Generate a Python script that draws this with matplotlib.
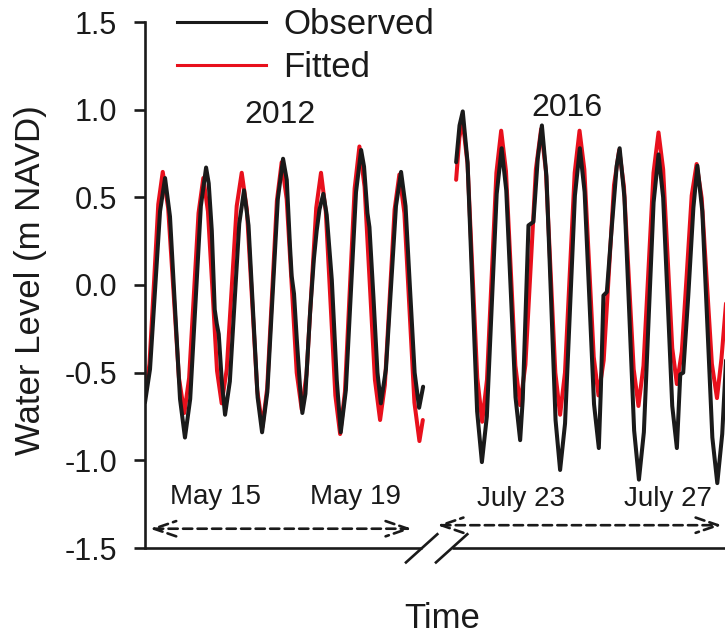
import matplotlib
matplotlib.use("Agg")
import matplotlib.pyplot as plt
from matplotlib.lines import Line2D

plt.rcParams['font.family'] = ['Liberation Sans', 'DejaVu Sans']
plt.rcParams['axes.unicode_minus'] = False

# ---- data (hours from the start of each record, water level in m NAVD) ----
obs_2012_hours = [0, 3.25, 6.5, 9.75, 13.0, 16.2, 19.45, 22.7, 25.9, 29.3, 32.75, 36.2,
                  39.6, 41.3, 43.3, 45.2, 46.5, 47.8, 49.8, 51.9, 55.0, 58.05, 61.1, 64.2,
                  67.1, 70.05, 73.0, 75.9, 79.3, 82.7, 86.1, 89.5, 91.9, 94.0, 95.1, 96.6,
                  98.4, 100.5, 102.0, 104.0, 107.0, 109.5, 111.3, 113.1, 115.6, 117.8, 121.1,
                  124.3, 126.9, 130.2, 133.5, 136.8, 140.1, 142.0, 144.2, 145.5, 148.1, 150.7,
                  152.9, 156.2, 159.45, 162.7, 166.0, 168.9, 171.85, 174.8, 177.7, 180.3]
obs_2012_level = [-0.67, -0.48, -0.03, 0.42, 0.61, 0.39, -0.13, -0.65, -0.87, -0.65, -0.10, 0.45,
                  0.67, 0.58, 0.31, -0.14, -0.22, -0.28, -0.55, -0.74, -0.55, -0.10, 0.35, 0.54,
                  0.34, -0.15, -0.64, -0.84, -0.61, -0.06, 0.49, 0.72, 0.60, 0.22, 0.05, -0.05,
                  -0.31, -0.58, -0.73, -0.62, -0.16, 0.15, 0.31, 0.43, 0.52, 0.40, 0.03,
                  -0.54, -0.84, -0.60, -0.035, 0.53, 0.77, 0.675, 0.41, 0.33, -0.07, -0.50,
                  -0.675, -0.48, -0.015, 0.45, 0.645, 0.45, -0.03, -0.50, -0.70, -0.58]

fit_2012_hours = [0, 2.9, 5.75, 8.6, 11.5, 15.0, 18.5, 22.0, 25.5, 28.6, 31.65, 34.7, 37.8,
                  40.8, 43.75, 46.7, 49.7, 53.0, 56.2, 59.45, 62.7, 66.05, 69.4, 72.75, 76.1,
                  79.2, 82.35, 85.5, 88.6, 91.85, 95.1, 98.35, 101.6, 104.7, 107.85, 111.0,
                  114.1, 117.2, 120.3, 123.4, 126.5, 129.6, 132.75, 135.9, 139.0, 142.35,
                  145.7, 149.05, 152.4, 155.5, 158.65, 161.8, 164.9, 168.15, 171.4, 174.65,
                  177.9, 180.1]
fit_2012_level = [-0.64, -0.45, 0.00, 0.46, 0.645, 0.44, -0.04, -0.53, -0.73, -0.53, -0.06, 0.41,
                  0.61, 0.42, -0.03, -0.49, -0.675, -0.48, -0.02, 0.45, 0.64, 0.43, -0.085,
                  -0.60, -0.81, -0.59, -0.055, 0.48, 0.70, 0.49, 0.00, -0.50, -0.71, -0.51,
                  -0.035, 0.44, 0.64, 0.42, -0.105, -0.63, -0.85, -0.61, -0.03, 0.55, 0.79,
                  0.56, 0.01, -0.54, -0.77, -0.57, -0.07, 0.43, 0.63, 0.41, -0.13, -0.67,
                  -0.89, -0.77]

obs_2016_hours = [0, 2.2, 4.3, 7.4, 10.5, 13.6, 16.7, 19.9, 23.1, 26.3, 29.5, 32.5, 35.5, 38.5,
                  41.5, 43.2, 46.9, 50.1, 52.9, 55.6, 58.55, 61.5, 64.45, 67.4, 70.6, 73.8,
                  77.0, 80.2, 83.3, 86.35, 89.4, 92.5, 93.8, 95.5, 97.7, 100.9, 104.1, 106.0,
                  109.1, 112.25, 115.4, 118.5, 121.7, 124.85, 128.0, 131.2, 134.2, 137.15,
                  140.1, 143.1, 145.3, 147.2, 150.5, 153.8, 156.4, 159.6, 162.85, 166.1,
                  169.3, 172.5, 176.0]
obs_2016_level = [0.70, 0.91, 0.99, 0.70, -0.01, -0.72, -1.01, -0.75, -0.115, 0.52, 0.78, 0.54,
                  -0.05, -0.64, -0.885, -0.65, 0.34, 0.36, 0.72, 0.91, 0.62, -0.07, -0.77,
                  -1.055, -0.79, -0.14, 0.51, 0.78, 0.53, -0.075, -0.68, -0.93, -0.60, -0.06,
                  -0.04, 0.33, 0.68, 0.78, 0.50, -0.165, -0.83, -1.11, -0.84, -0.18, 0.47,
                  0.745, 0.50, -0.09, -0.69, -0.93, -0.51, -0.50, -0.06, 0.44, 0.68, 0.42,
                  -0.225, -0.87, -1.13, -0.85, -0.25]

fit_2016_hours = [0, 2.1, 4.2, 7.4, 10.55, 13.7, 16.9, 20.0, 23.05, 26.1, 29.2, 32.3, 35.35,
                  38.4, 41.5, 44.9, 48.3, 51.7, 55.1, 58.2, 61.25, 64.3, 67.4, 70.55, 73.7,
                  76.85, 80.0, 83.1, 86.15, 89.2, 92.3, 95.65, 99.0, 102.35, 105.7, 108.8,
                  111.95, 115.1, 118.2, 121.45, 124.7, 127.95, 131.2, 134.2, 137.15, 140.1,
                  143.1, 146.3, 149.5, 152.7, 155.9, 159.2, 162.5, 165.8, 169.1, 172.0, 175.0]
fit_2016_level = [0.60, 0.84, 0.94, 0.69, 0.08, -0.53, -0.78, -0.54, 0.05, 0.64, 0.88, 0.65,
                  0.10, -0.46, -0.685, -0.455, 0.10, 0.66, 0.89, 0.65, 0.075, -0.50, -0.74,
                  -0.50, 0.07, 0.64, 0.88, 0.66, 0.125, -0.41, -0.63, -0.43, 0.07, 0.57, 0.77,
                  0.56, 0.04, -0.48, -0.69, -0.46, 0.09, 0.64, 0.87, 0.66, 0.15, -0.36, -0.565,
                  -0.38, 0.06, 0.51, 0.69, 0.495, 0.02, -0.45, -0.645, -0.42, -0.10]

year_labels = ['2012', '2016']
date_labels_2012 = ['May 15', 'May 19']
date_labels_2016 = ['July 23', 'July 27']
date_hours_2012 = [45.4, 136.2]
date_hours_2016 = [42.0, 137.5]
y_ticks = [-1.5, -1.0, -0.5, 0.0, 0.5, 1.0, 1.5]

# ---- layout ----
OFFSET_2016 = 201.7   # where the 2016 record starts on the shared time axis (hours)
X_MAX = 376.0
BLACK = '#1a1a1a'
RED = '#e8101c'
TXT = '#1a1a1a'

x16_obs = [h + OFFSET_2016 for h in obs_2016_hours]
x16_fit = [h + OFFSET_2016 for h in fit_2016_hours]

fig = plt.figure(figsize=(7.25, 6.4), dpi=100)
ax = fig.add_axes([0.2, 92 / 640, 0.8, 526 / 640])

line_kw = dict(lw=2.9, solid_joinstyle='round', solid_capstyle='round')
ax.plot(fit_2012_hours, fit_2012_level, color=RED, **line_kw)
ax.plot(obs_2012_hours, obs_2012_level, color=BLACK, **line_kw)
ax.plot(x16_fit, fit_2016_level, color=RED, **line_kw)
ax.plot(x16_obs, obs_2016_level, color=BLACK, **line_kw)

ax.set_xlim(0, X_MAX)
ax.set_ylim(-1.5, 1.5)
ax.set_xticks([])
ax.set_yticks(y_ticks)
ax.set_yticklabels([f'{t:.1f}' for t in y_ticks])
ax.tick_params(axis='y', direction='out', length=8, width=1.9, pad=12,
               labelsize=22, colors=TXT)

for side in ['top', 'right', 'bottom']:
    ax.spines[side].set_visible(False)
ax.spines['left'].set_linewidth(1.9)
ax.spines['left'].set_color(BLACK)

# broken bottom axis
brk = dict(transform=ax.transAxes, clip_on=False, color=BLACK, lw=1.9,
           solid_capstyle='butt')
ax.plot([0, 0.4776], [0, 0], **brk)
ax.plot([0.5293, 1.0], [0, 0], **brk)
ax.plot([0.4483, 0.5057], [-0.0291, 0.0279], **brk)
ax.plot([0.5000, 0.5574], [-0.0291, 0.0279], **brk)

# year labels
ax.text(87.5, 0.97, year_labels[0], ha='center', va='center', fontsize=23, color=TXT)
ax.text(273.7, 1.01, year_labels[1], ha='center', va='center', fontsize=23, color=TXT)

# date labels
for lab, h in zip(date_labels_2012, date_hours_2012):
    ax.text(h, -1.21, lab, ha='center', va='center', fontsize=20, color=TXT)
for lab, h in zip(date_labels_2016, date_hours_2016):
    ax.text(h + OFFSET_2016, -1.22, lab, ha='center', va='center', fontsize=20, color=TXT)

# dashed double arrows
arrow = dict(arrowstyle='<->,head_length=1.6,head_width=0.55', linestyle=(0, (3.5, 2)),
             lw=1.9, color=BLACK, shrinkA=0, shrinkB=0)
ax.annotate('', xy=(173.0, -1.39), xytext=(3.2, -1.39), arrowprops=arrow)
ax.annotate('', xy=(374.0, -1.37), xytext=(189.4, -1.37), arrowprops=arrow)

# legend
handles = [Line2D([], [], color=BLACK, lw=2.2), Line2D([], [], color=RED, lw=2.2)]
ax.legend(handles, ['Observed', 'Fitted'], loc='upper left',
          bbox_to_anchor=(177 / 725, 1 - 8 / 640), bbox_transform=fig.transFigure,
          frameon=False, fontsize=25, handlelength=2.55, handletextpad=0.5,
          labelspacing=0.29, borderpad=0, borderaxespad=0, labelcolor=TXT)

fig.text(442 / 725, 1 - 619 / 640, 'Time', ha='center', va='center', fontsize=25,
         color=TXT)
fig.text(31 / 725, 1 - 280 / 640, 'Water Level (m NAVD)', ha='center', va='center',
         rotation=90, fontsize=25, color=TXT)

fig.savefig('out.png', dpi=100)
